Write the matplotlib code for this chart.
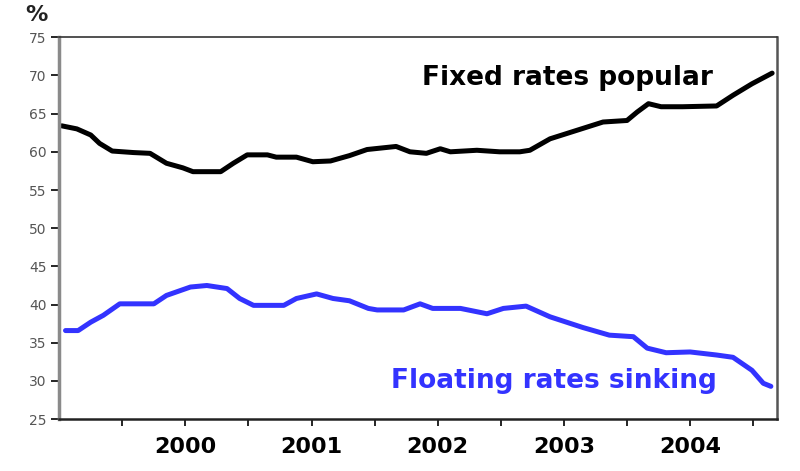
import matplotlib
matplotlib.use("Agg")
import matplotlib.pyplot as plt

# Fixed-rate share (%), decimal years
fixed_x = [1999.02, 1999.14, 1999.25, 1999.32, 1999.42, 1999.59, 1999.72, 1999.85,
           1999.98, 2000.06, 2000.28, 2000.38, 2000.49, 2000.65, 2000.72, 2000.88,
           2001.01, 2001.15, 2001.30, 2001.44, 2001.67, 2001.78, 2001.91, 2002.02,
           2002.10, 2002.31, 2002.49, 2002.65, 2002.73, 2002.89, 2003.10, 2003.31,
           2003.50, 2003.58, 2003.67, 2003.77, 2003.94, 2004.21, 2004.34, 2004.49,
           2004.65]
fixed_y = [63.4, 63.0, 62.2, 61.1, 60.1, 59.9, 59.8, 58.5,
           57.9, 57.4, 57.4, 58.5, 59.6, 59.6, 59.3, 59.3,
           58.7, 58.8, 59.5, 60.3, 60.7, 60.0, 59.8, 60.4,
           60.0, 60.2, 60.0, 60.0, 60.2, 61.7, 62.8, 63.9,
           64.1, 65.2, 66.3, 65.9, 65.9, 66.0, 67.4, 68.9,
           70.3]

# Floating-rate share (%)
float_x = [1999.05, 1999.15, 1999.25, 1999.35, 1999.48, 1999.75, 1999.85, 2000.04,
           2000.17, 2000.33, 2000.43, 2000.54, 2000.78, 2000.88, 2001.04, 2001.17,
           2001.30, 2001.45, 2001.52, 2001.73, 2001.86, 2001.96, 2002.18, 2002.39,
           2002.52, 2002.70, 2002.89, 2003.15, 2003.36, 2003.55, 2003.66, 2003.81,
           2004.00, 2004.21, 2004.34, 2004.49, 2004.58, 2004.64]
float_y = [36.6, 36.6, 37.7, 38.6, 40.1, 40.1, 41.2, 42.3,
           42.5, 42.1, 40.8, 39.9, 39.9, 40.8, 41.4, 40.8,
           40.5, 39.5, 39.3, 39.3, 40.1, 39.5, 39.5, 38.8,
           39.5, 39.8, 38.4, 37.0, 36.0, 35.8, 34.3, 33.7,
           33.8, 33.4, 33.1, 31.4, 29.7, 29.3]

year_labels = ["2000", "2001", "2002", "2003", "2004"]
year_pos = [2000, 2001, 2002, 2003, 2004]
half_ticks = [1999.5, 2000.5, 2001.5, 2002.5, 2003.5, 2004.5]
y_ticks = [25, 30, 35, 40, 45, 50, 55, 60, 65, 70, 75]

fig = plt.figure(figsize=(8.0, 4.71), dpi=100)
ax = fig.add_axes([0.074, 0.110, 0.897, 0.811])

ax.plot(fixed_x, fixed_y, color="black", lw=3.6, solid_capstyle="round", solid_joinstyle="round")
ax.plot(float_x, float_y, color="#3333ff", lw=3.6, solid_capstyle="round", solid_joinstyle="round")

ax.set_xlim(1999.0, 2004.687)
ax.set_ylim(25, 75)

ax.set_yticks(y_ticks)
ax.set_yticklabels([str(v) for v in y_ticks], fontsize=10, color="#555555", family="DejaVu Sans")
ax.set_xticks(year_pos)
ax.set_xticklabels(year_labels, fontsize=16, fontweight="bold", family="DejaVu Sans")
ax.set_xticks(half_ticks, minor=True)
ax.tick_params(axis="x", which="both", direction="out", length=5, width=1.2, color="black", pad=8)
ax.tick_params(axis="y", direction="out", length=6, width=1.2, color="black", pad=3)

ax.spines["left"].set_color("#8a8a8a")
ax.spines["left"].set_linewidth(2.5)
ax.spines["bottom"].set_color("#222222")
ax.spines["bottom"].set_linewidth(1.8)
ax.spines["top"].set_color("#333333")
ax.spines["top"].set_linewidth(1.2)
ax.spines["right"].set_color("#555555")
ax.spines["right"].set_linewidth(1.8)

ax.text(2003.03, 69.6, "Fixed rates popular", fontsize=19, fontweight="bold",
        color="black", ha="center", va="center", family="DejaVu Sans")
ax.text(2002.92, 30.0, "Floating rates sinking", fontsize=19, fontweight="bold",
        color="#3333ff", ha="center", va="center", family="DejaVu Sans")

fig.text(0.046, 0.968, "%", fontsize=16, fontweight="bold", color="#222222",
         ha="center", va="center", family="DejaVu Sans")

fig.savefig("out.png", dpi=100, facecolor="white")
